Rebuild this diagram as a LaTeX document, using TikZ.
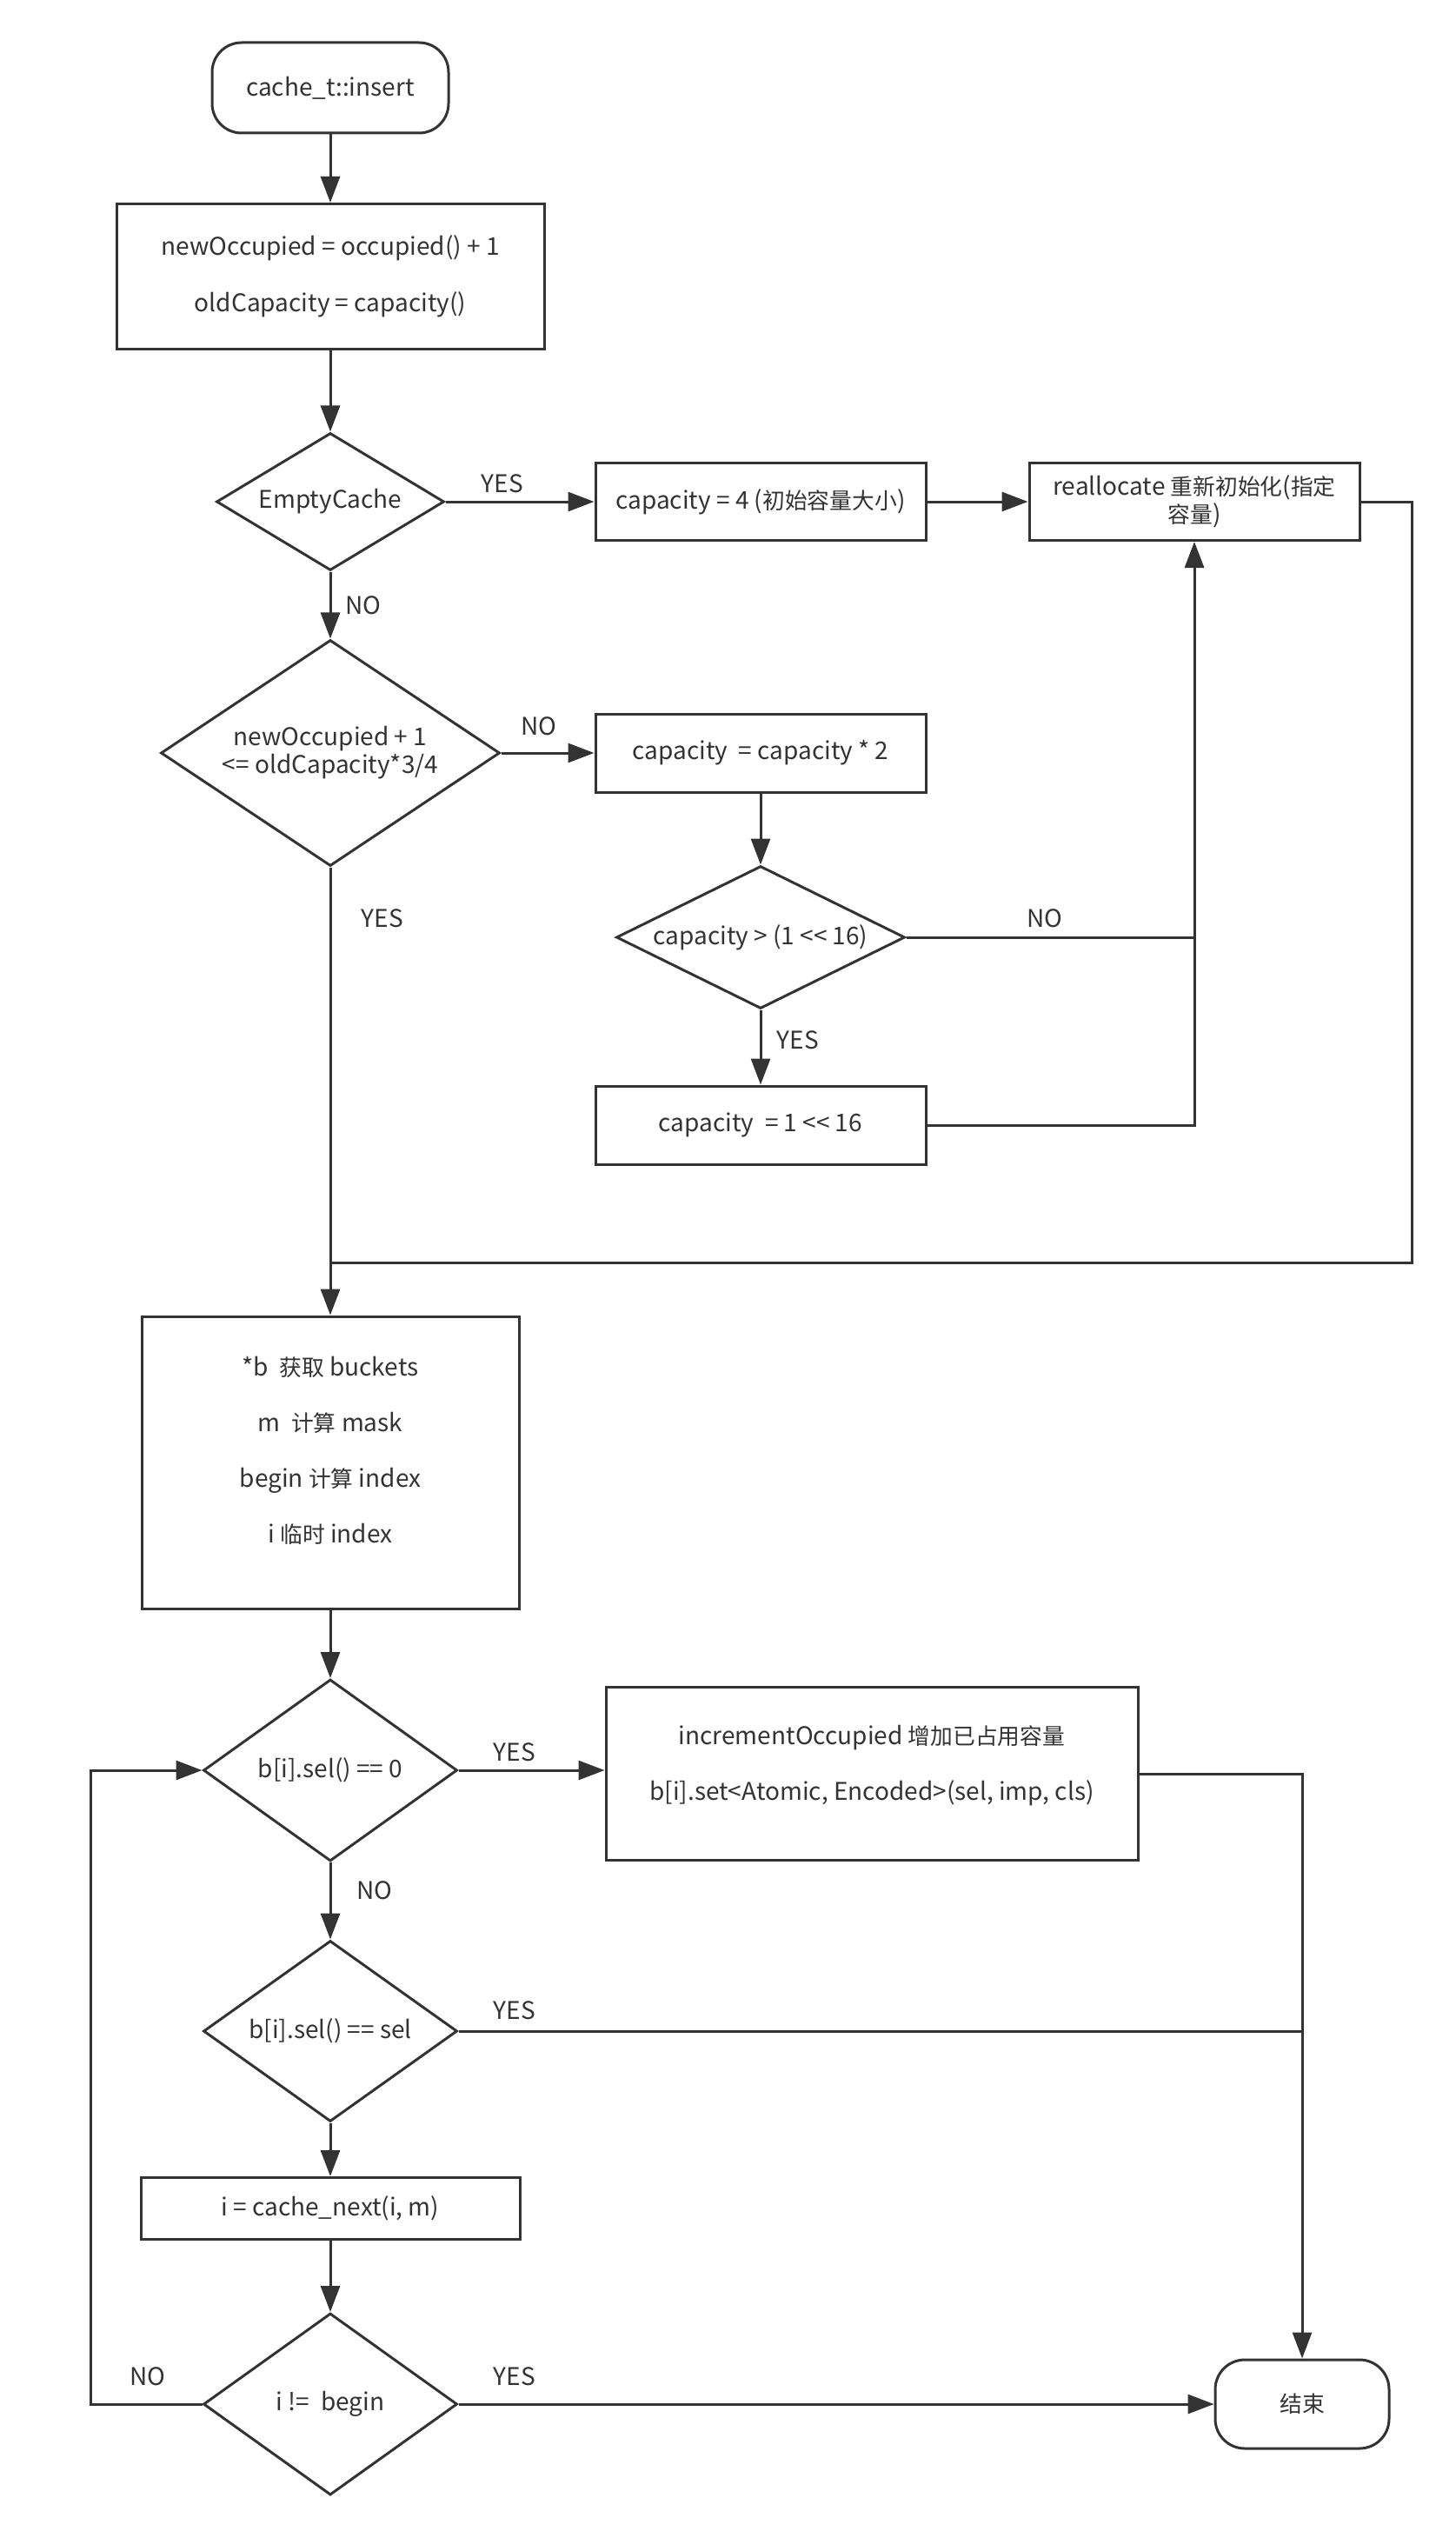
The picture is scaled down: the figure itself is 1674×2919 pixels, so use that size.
\documentclass[tikz,border=0pt]{standalone}
\usepackage{fontspec}
\setmainfont{Noto Sans CJK SC}
\newfontfamily\zh[Scale=0.92]{Noto Sans CJK SC}
\usetikzlibrary{shapes.geometric,arrows.meta}
\definecolor{trait}{HTML}{333333}

\begin{document}
\begin{tikzpicture}[x=1pt,y=-1pt,
    every node/.style={text=trait, font=\fontsize{28}{34}\selectfont},
    boite/.style={draw=trait, line width=3pt, align=center, inner sep=0pt},
    debutfin/.style={boite, rounded corners=34pt},
    losange/.style={boite, diamond},
    ligne/.style={draw=trait, line width=3pt},
    fleche/.style={ligne, -{Triangle[length=30pt,width=22pt]}}]
        % Cadre de la page (memes proportions que l'image)
        \useasboundingbox (0,0) rectangle (1674,2919);

        % Debut et premiere initialisation
        \node[debutfin, minimum width=272pt, minimum height=104pt] (debut) at (380,101) {cache\_t::insert};
        \node[boite, minimum width=492pt, minimum height=167pt] (init) at (380,318) {newOccupied = occupied() + 1\\[31pt]oldCapacity = capacity()};

        % Cache vide ou pas
        \node[losange, shape aspect=1.66, minimum width=262pt, minimum height=158pt] (vide) at (380,577) {EmptyCache};
        \node[boite, minimum width=380pt, minimum height=89pt] (cap4) at (875,577) {capacity = 4 ({\zh 初始容量大小})};
        \node[boite, minimum width=380pt, minimum height=89pt] (realloc) at (1374,577) {reallocate {\zh 重新初始化}({\zh 指定}\\[-2pt]{\zh 容量})};

        % Test du taux de remplissage
        \node[losange, shape aspect=1.5, minimum width=390pt, minimum height=260pt] (charge) at (380,866) {newOccupied + 1\\[-2pt]<= oldCapacity*3/4};
        \node[boite, minimum width=380pt, minimum height=90pt] (double) at (875,866) {capacity\ \ = capacity * 2};
        \node[losange, shape aspect=2.02, minimum width=332pt, minimum height=164pt] (max) at (875,1078) {capacity > (1 <{}< 16)};
        \node[boite, minimum width=380pt, minimum height=90pt] (plafond) at (875,1294) {capacity\ \ = 1 <{}< 16};

        % Recherche de la place dans les buckets
        % (la derniere ligne vide remonte un peu le texte dans la boite)
        \node[boite, minimum width=434pt, minimum height=336pt] (calcul) at (380,1682) {*b\ \ {\zh 获取} buckets\\[30pt]m\ \ {\zh 计算} mask\\[30pt]begin {\zh 计算} index\\[30pt]i {\zh 临时} index\\[-4pt]\mbox{}};
        \node[losange, shape aspect=1.4, minimum width=292pt, minimum height=209pt] (vide2) at (380,2036) {b[i].sel() == 0};
        \node[boite, minimum width=612pt, minimum height=199pt] (ajout) at (1003,2040) {incrementOccupied {\zh 增加已占用容量}\\[30pt]b[i].set<Atomic, Encoded>(sel, imp, cls)\\[-8pt]\mbox{}};
        \node[losange, shape aspect=1.4, minimum width=292pt, minimum height=208pt] (egal) at (380,2336) {b[i].sel() == sel};
        \node[boite, minimum width=436pt, minimum height=71pt] (suivant) at (380,2540) {i = cache\_next(i, m)};
        \node[losange, shape aspect=1.4, minimum width=292pt, minimum height=209pt] (boucle) at (380,2765) {i !=\ \ begin};
        \node[debutfin, minimum width=200pt, minimum height=102pt] (fin) at (1498,2765) {{\zh 结束}};

        % Points de passage des lignes
        \coordinate (coin) at (1624,1452);
        \coordinate (gauche) at (104,2765);

        % Liaisons
        \draw[fleche] (debut) -- (init);
        \draw[fleche] (init) -- (vide);
        \draw[fleche] (vide) -- (cap4);
        \draw[fleche] (cap4) -- (realloc);
        \draw[fleche] (vide) -- (charge);
        \draw[fleche] (charge) -- (double);
        \draw[fleche] (double) -- (max);
        \draw[fleche] (max) -- (plafond);
        \draw[ligne] (max.east) -- (max.east -| realloc.south);
        \draw[fleche] (plafond.east) -| (realloc.south);
        \draw[ligne] (realloc.east) -| (coin) -- (coin -| charge.south);
        \draw[fleche] (charge) -- (calcul);
        \draw[fleche] (calcul) -- (vide2);
        \draw[fleche] (vide2.east) -- (vide2.east -| ajout.west);
        \draw[fleche] (vide2) -- (egal);
        \draw[fleche] (egal) -- (suivant);
        \draw[fleche] (suivant) -- (boucle);
        \draw[fleche] (boucle) -- (fin);
        \draw[fleche] (ajout.east) -| (fin.north);
        \draw[ligne] (egal.east) -- (egal.east -| fin.north);
        \draw[fleche] (boucle.west) -- (gauche) |- (vide2.west);

        % Etiquettes YES / NO
        \node (oui1) at (578,556) {YES};
        \node (non1) at (418,696) {NO};
        \node (non2) at (620,835) {NO};
        \node (oui2) at (440,1056) {YES};
        \node (non3) at (1202,1056) {NO};
        \node (oui3) at (918,1196) {YES};
        \node (oui4) at (592,2015) {YES};
        \node (non4) at (431,2174) {NO};
        \node (oui5) at (592,2312) {YES};
        \node (non5) at (170,2733) {NO};
        \node (oui6) at (592,2733) {YES};
\end{tikzpicture}
\end{document}
